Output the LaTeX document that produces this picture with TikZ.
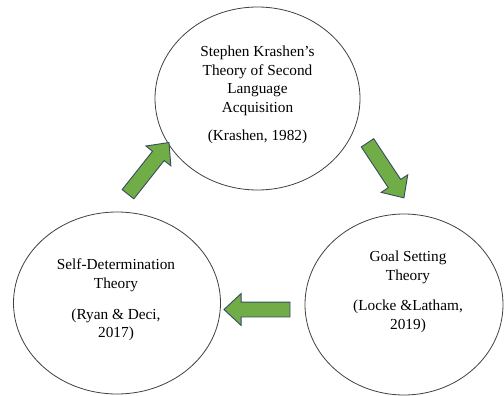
\documentclass[tikz,border=0pt]{standalone}
\usepackage{fontspec}
\setmainfont{Liberation Serif}
\usetikzlibrary{shapes.arrows,shapes.geometric}
\definecolor{arrowgreen}{HTML}{70AD47}
\definecolor{arrowedge}{HTML}{3A4B60}
\definecolor{ringline}{HTML}{404040}
\begin{document}
\begin{tikzpicture}[x=1pt,y=-1pt,
  ring/.style={ellipse, draw=ringline, line width=0.8pt, inner sep=0pt},
  txt/.style={align=center, font=\fontsize{15.3pt}{18.6pt}\selectfont, inner sep=0pt},
  bigarrow/.style={single arrow, draw=arrowedge, fill=arrowgreen, line width=0.9pt,
     inner xsep=0pt, inner ysep=7pt, single arrow head extend=8.5pt,
     minimum height=66pt, single arrow tip angle=86}]
\useasboundingbox (0,0) rectangle (504,396);
\node[ring, minimum width=205pt, minimum height=183pt] (top) at (257.5,98.5) {};
\node[ring, minimum width=207pt, minimum height=182pt] (left) at (117,303) {};
\node[ring, minimum width=198pt, minimum height=181pt] (right) at (404,304.5) {};
\node[txt] (toptext) at (257.5,95) {Stephen Krashen's\\Theory of Second\\Language\\Acquisition\\[10pt](Krashen, 1982)};
\node[txt] (lefttext) at (116,300) {Self-Determination\\Theory\\[12pt](Ryan \& Deci,\\2017)};
\node[txt] (righttext) at (408,292) {Goal Setting\\Theory\\[12pt](Locke \&Latham,\\2019)};
\node[bigarrow, rotate=51.6] (a1) at (146,171.5) {};
\node[bigarrow, rotate=-56.5] (a2) at (383.5,167) {};
\node[bigarrow, rotate=180] (a3) at (261,309.5) {};
\end{tikzpicture}
\end{document}
